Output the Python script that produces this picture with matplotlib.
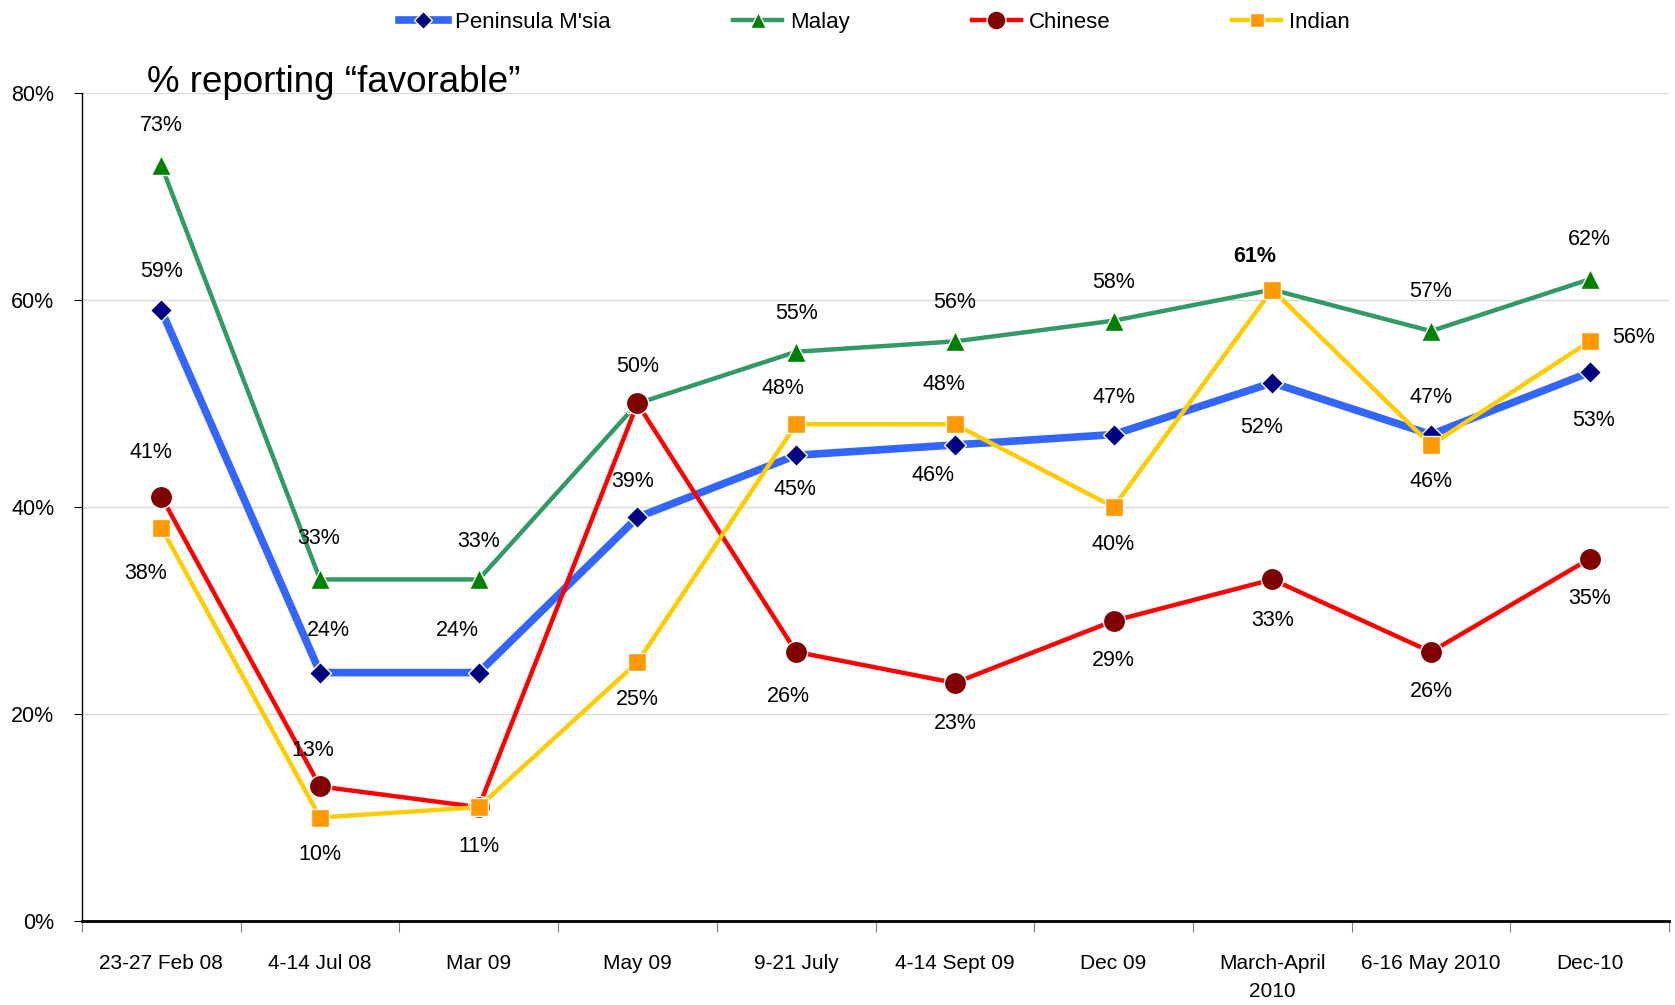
import matplotlib
matplotlib.use("Agg")
import matplotlib.pyplot as plt
from matplotlib.ticker import FixedLocator, PercentFormatter

plt.rcParams['font.family'] = ['Liberation Sans', 'DejaVu Sans']

categories = ["23-27 Feb 08", "4-14 Jul 08", "Mar 09", "May 09", "9-21 July",
              "4-14 Sept 09", "Dec 09", "March-April\n2010", "6-16 May 2010", "Dec-10"]
peninsula = [59, 24, 24, 39, 45, 46, 47, 52, 47, 53]
malay = [73, 33, 33, 50, 55, 56, 58, 61, 57, 62]
chinese = [41, 13, 11, 50, 26, 23, 29, 33, 26, 35]
indian = [38, 10, 11, 25, 48, 48, 40, 61, 46, 56]
series_names = ["Peninsula M'sia", "Malay", "Chinese", "Indian"]
title_text = "% reporting \u201cfavorable\u201d"

# label offsets (in shrunk reference px: dx, dy where dy positive = down); None = no label
pen_off = [(0, -36), (8, -39), (-20, -39), (-5, -34), (-1, 32), (-20, 29), (0, -35), (-10, 42), (0, -35), (4, 45)]
mal_off = [(0, -37), (-1, -38), (0, -36), None, (0, -36), (0, -36), (0, -36), (-16, -31), (0, -37), (0, -37)]
chi_off = [(-10, -41), (-7, -34), None, (0, -35), (-7, 42), (0, 38), (0, 37), (0, 38), (0, 37), (0, 37)]
ind_off = [(-15, 43), (0, 35), (0, 37), (0, 35), (-12, -33), (-10, -37), (0, 35), None, (0, 34), (41, -4)]

fig = plt.figure(figsize=(16.75, 10.05), dpi=100)
ax = fig.add_axes([82/1675, 1-921/1005, (1669-82)/1675, (921-93)/1005])

x = list(range(len(categories)))
styles = [
    dict(color="#3366FF", lw=5.5, marker="D", ms=11, mfc="#000080", mec="white", mew=1.0),
    dict(color="#339966", lw=3.2, marker="^", ms=14, mfc="#008000", mec="white", mew=1.0),
    dict(color="#FF0000", lw=3.2, marker="o", ms=16, mfc="#800000", mec="white", mew=1.0),
    dict(color="#FFCC00", lw=3.2, marker="s", ms=12.5, mfc="#FF9900", mec="white", mew=1.0),
]
data = [peninsula, malay, chinese, indian]
offs = [pen_off, mal_off, chi_off, ind_off]
handles = []
for i, (vals, st, name) in enumerate(zip(data, styles, series_names)):
    h, = ax.plot(x, vals, label=name, zorder=3 + i, clip_on=False, **st)
    handles.append(h)

k = 1.068 * 0.72
for vals, off in zip(data, offs):
    for xi, (v, o) in enumerate(zip(vals, off)):
        if o is None:
            continue
        bold = (vals is malay and xi == 7)
        ax.annotate(f"{v}%", (xi, v), xytext=(o[0]*k, -o[1]*k), textcoords="offset points",
                    ha="center", va="center", fontsize=15.5,
                    fontweight="bold" if bold else "normal", zorder=10)

ax.set_xlim(-0.5, 9.5)
ax.set_ylim(0, 80)
ax.yaxis.set_major_locator(FixedLocator([0, 20, 40, 60, 80]))
ax.yaxis.set_major_formatter(PercentFormatter(decimals=0))
ax.grid(axis="y", color="#D9D9D9", lw=1.0, zorder=0)
ax.set_axisbelow(True)
ax.set_xticks(x)
ax.set_xticklabels(categories, fontsize=15, va="top", linespacing=1.6)
ax.set_xticks([i + 0.5 for i in range(-1, 10)], minor=True)
ax.tick_params(axis="x", which="major", length=0, pad=24)
ax.tick_params(axis="x", which="minor", length=8, direction="out", width=0.8, color="#808080")
ax.tick_params(axis="y", labelsize=15.5, length=6, direction="out", width=0.8, pad=14)
for s in ["top", "right"]:
    ax.spines[s].set_visible(False)
ax.spines["left"].set_linewidth(1.0)
ax.spines["bottom"].set_linewidth(2.0)

fig.text(147/1675, 1-82/1005, title_text, fontsize=26.5, ha="left", va="center")

fig.legend(handles=handles, loc="upper center", bbox_to_anchor=(0.522, 1.008), ncol=4,
           frameon=False, fontsize=16, handlelength=2.2, handletextpad=0.35,
           columnspacing=5.5, markerscale=0.85)

fig.savefig("out.png", dpi=100)
